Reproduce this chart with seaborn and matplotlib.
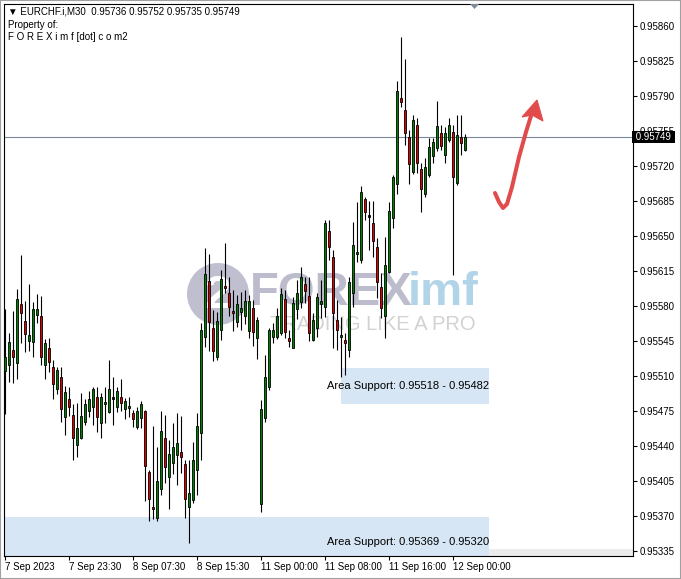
import pandas as pd
import matplotlib
matplotlib.use("Agg")
import matplotlib.pyplot as plt
import matplotlib.transforms as mtransforms
from matplotlib.patches import Rectangle, Polygon, Circle
import seaborn as sns

# EURCHF M30 candles, 7 Sep 2023 15:30 -> 12 Sep 2023 01:30
opens = [
    0.95515, 0.95521, 0.95536, 0.95523, 0.95582, 0.95565, 0.95545, 0.95544, 0.95571, 0.95570,
    0.95521, 0.95538, 0.95519, 0.95497, 0.95509, 0.95469, 0.95487, 0.95471, 0.95441, 0.95448,
    0.95464, 0.95475, 0.95479, 0.95489, 0.95463, 0.95482, 0.95474, 0.95487, 0.95479, 0.95489,
    0.95477, 0.95478, 0.95473, 0.95459, 0.95468, 0.95475, 0.95414, 0.95379, 0.95368, 0.95397,
    0.95448, 0.95409, 0.95423, 0.95431, 0.95434, 0.95422, 0.95379, 0.95386, 0.95416, 0.95453,
    0.95549, 0.95605, 0.95558, 0.95529, 0.95556, 0.95599, 0.95593, 0.95575, 0.95564, 0.95574,
    0.95570, 0.95555, 0.95578, 0.95548, 0.95382, 0.95468, 0.95499, 0.95549, 0.95549, 0.95553,
    0.95587, 0.95548, 0.95538, 0.95577, 0.95584, 0.95602, 0.95590, 0.95546, 0.95558, 0.95582,
    0.95579, 0.95655, 0.95629, 0.95566, 0.95549, 0.95546, 0.95536, 0.95593, 0.95632, 0.95626,
    0.95687, 0.95669, 0.95663, 0.95639, 0.95599, 0.95570, 0.95614, 0.95668, 0.95702, 0.95788,
    0.95776, 0.95749, 0.95714, 0.95761, 0.95717, 0.95692, 0.95711, 0.95730, 0.95738, 0.95753,
    0.95731, 0.95746, 0.95754, 0.95703, 0.95749, 0.95736,
]
highs = [
    0.95577, 0.95553, 0.95575, 0.95597, 0.95631, 0.95585, 0.95602, 0.95584, 0.95592, 0.95590,
    0.95547, 0.95548, 0.95526, 0.95519, 0.95519, 0.95500, 0.95499, 0.95482, 0.95483, 0.95493,
    0.95487, 0.95495, 0.95499, 0.95499, 0.95493, 0.95499, 0.95526, 0.95509, 0.95499, 0.95507,
    0.95488, 0.95489, 0.95476, 0.95479, 0.95485, 0.95476, 0.95416, 0.95460, 0.95439, 0.95475,
    0.95471, 0.95446, 0.95463, 0.95473, 0.95470, 0.95426, 0.95426, 0.95444, 0.95473, 0.95563,
    0.95638, 0.95632, 0.95576, 0.95574, 0.95616, 0.95643, 0.95609, 0.95596, 0.95591, 0.95594,
    0.95596, 0.95591, 0.95586, 0.95569, 0.95486, 0.95531, 0.95558, 0.95563, 0.95578, 0.95598,
    0.95596, 0.95556, 0.95589, 0.95606, 0.95619, 0.95609, 0.95609, 0.95573, 0.95593, 0.95606,
    0.95666, 0.95666, 0.95636, 0.95586, 0.95569, 0.95553, 0.95609, 0.95664, 0.95684, 0.95700,
    0.95689, 0.95685, 0.95685, 0.95648, 0.95613, 0.95649, 0.95684, 0.95711, 0.95805, 0.95849,
    0.95827, 0.95756, 0.95771, 0.95768, 0.95723, 0.95728, 0.95748, 0.95748, 0.95785, 0.95761,
    0.95759, 0.95768, 0.95761, 0.95771, 0.95771, 0.95752,
]
lows = [
    0.95472, 0.95504, 0.95503, 0.95507, 0.95543, 0.95534, 0.95535, 0.95529, 0.95563, 0.95521,
    0.95507, 0.95514, 0.95487, 0.95492, 0.95464, 0.95451, 0.95470, 0.95426, 0.95429, 0.95447,
    0.95461, 0.95469, 0.95461, 0.95454, 0.95448, 0.95463, 0.95473, 0.95461, 0.95474, 0.95475,
    0.95467, 0.95469, 0.95459, 0.95457, 0.95458, 0.95385, 0.95365, 0.95367, 0.95365, 0.95391,
    0.95403, 0.95377, 0.95412, 0.95401, 0.95413, 0.95368, 0.95343, 0.95383, 0.95391, 0.95426,
    0.95539, 0.95535, 0.95525, 0.95526, 0.95546, 0.95593, 0.95570, 0.95555, 0.95559, 0.95556,
    0.95562, 0.95548, 0.95540, 0.95527, 0.95374, 0.95464, 0.95496, 0.95543, 0.95547, 0.95551,
    0.95548, 0.95539, 0.95538, 0.95567, 0.95578, 0.95583, 0.95545, 0.95545, 0.95549, 0.95568,
    0.95569, 0.95626, 0.95538, 0.95536, 0.95509, 0.95511, 0.95529, 0.95579, 0.95624, 0.95623,
    0.95666, 0.95636, 0.95629, 0.95588, 0.95568, 0.95548, 0.95613, 0.95658, 0.95692, 0.95779,
    0.95741, 0.95702, 0.95712, 0.95713, 0.95674, 0.95689, 0.95709, 0.95723, 0.95735, 0.95736,
    0.95723, 0.95744, 0.95611, 0.95701, 0.95731, 0.95735,
]
closes = [
    0.95529, 0.95544, 0.95529, 0.95587, 0.95573, 0.95552, 0.95551, 0.95577, 0.95577, 0.95529,
    0.95543, 0.95524, 0.95502, 0.95516, 0.95477, 0.95494, 0.95479, 0.95448, 0.95458, 0.95470,
    0.95482, 0.95487, 0.95497, 0.95469, 0.95489, 0.95483, 0.95497, 0.95487, 0.95495, 0.95483,
    0.95485, 0.95480, 0.95467, 0.95475, 0.95482, 0.95420, 0.95387, 0.95377, 0.95405, 0.95455,
    0.95419, 0.95432, 0.95439, 0.95443, 0.95429, 0.95387, 0.95393, 0.95426, 0.95460, 0.95556,
    0.95612, 0.95564, 0.95535, 0.95565, 0.95607, 0.95598, 0.95579, 0.95573, 0.95582, 0.95578,
    0.95585, 0.95585, 0.95554, 0.95566, 0.95477, 0.95509, 0.95556, 0.95556, 0.95570, 0.95592,
    0.95554, 0.95545, 0.95583, 0.95593, 0.95609, 0.95595, 0.95553, 0.95566, 0.95589, 0.95585,
    0.95663, 0.95639, 0.95573, 0.95556, 0.95551, 0.95543, 0.95604, 0.95641, 0.95634, 0.95694,
    0.95674, 0.95669, 0.95645, 0.95604, 0.95578, 0.95621, 0.95675, 0.95709, 0.95795, 0.95784,
    0.95753, 0.95722, 0.95766, 0.95723, 0.95697, 0.95719, 0.95739, 0.95744, 0.95760, 0.95740,
    0.95753, 0.95761, 0.95709, 0.95751, 0.95743, 0.95749,
]

tick_bars = [0, 16, 32, 48, 64, 80, 96, 112]
tick_labels = ["7 Sep 2023", "7 Sep 23:30", "8 Sep 07:30", "8 Sep 15:30",
               "11 Sep 00:00", "11 Sep 08:00", "11 Sep 16:00", "12 Sep 00:00"]
price_ticks = [0.95335, 0.95370, 0.95405, 0.95440, 0.95475, 0.95510, 0.95545, 0.95580,
               0.95615, 0.95650, 0.95685, 0.95720, 0.95755, 0.95790, 0.95825, 0.95860]
last_price = 0.95749
header = "EURCHF.i,M30  0.95736 0.95752 0.95735 0.95749"
zone_high = [0.95518, 0.95369]
zone_low = [0.95482, 0.95320]

df = pd.DataFrame({"open": opens, "high": highs, "low": lows, "close": closes})
df["bar"] = range(len(df))
df["bottom"] = df[["open", "close"]].min(axis=1)
df["height"] = (df["close"] - df["open"]).abs().clip(lower=0.000018)
df["color"] = ["#008000" if c > o else ("#e00000" if c < o else "black")
               for o, c in zip(df["open"], df["close"])]

sns.set_theme(style="white")
plt.rcParams["font.family"] = ["Liberation Sans", "DejaVu Sans"]

W, H = 681, 579
fig = plt.figure(figsize=(W / 100, H / 100), dpi=100)
fig.patch.set_facecolor("white")
ax = fig.add_axes([4 / W, (H - 556) / H, (633 - 4) / W, (556 - 4) / H])
ax.set_facecolor("white")
# image-pixel transform for annotations (x right, y down)
pix = mtransforms.Affine2D().scale(1 / W, -1 / H).translate(0, 1) + fig.transFigure

ax.set_xlim(-0.325, 156.925)
ax.set_ylim(0.95330, 0.95882)

# support zones
zone_start = [83.9, -0.325]
zone_text_y = [0.95500, 0.95344]
zone_end = 120.9
for lo, hi, x0, ty in zip(zone_low, zone_high, zone_start, zone_text_y):
    ax.add_patch(Rectangle((x0, lo), zone_end - x0, hi - lo, facecolor="#d7e6f5",
                           edgecolor="none", zorder=0.5))
    ax.text(zone_end, ty, f"Area Support: {hi:.5f} - {lo:.5f}", ha="right",
            va="center", fontsize=8, color="black", zorder=5)
ax.add_patch(Rectangle((zone_end, 0.95330), 160 - zone_end, 0.00007,
                       facecolor="#ececec", edgecolor="none", zorder=0.4))

# watermark
ax.add_patch(Circle((218, 294), 31, transform=pix, facecolor="#a5a5bd",
                    edgecolor="none", alpha=0.7, zorder=1))
ax.text(218, 296, "2", transform=pix, ha="center", va="center", fontsize=34,
        fontweight="bold", color="white", zorder=1.1)
ax.text(250, 293, "FOREX", transform=pix, ha="left", va="center", fontsize=34,
        fontweight="bold", color="#a2a2ba", alpha=0.72, zorder=1)
ax.text(408, 293, "imf", transform=pix, ha="left", va="center", fontsize=34,
        fontweight="bold", color="#a9d0e6", alpha=0.9, zorder=1)
ax.text(270, 324, "TRADING LIKE A PRO", transform=pix, ha="left", va="center",
        fontsize=14.5, color="#d2d2d2", zorder=1)

# last price line
ax.axhline(last_price, color="#7b8899", lw=0.8, zorder=1.5)

# candles
ax.vlines(df["bar"], df["low"], df["high"], colors="black", lw=0.8, zorder=2)
ax.bar(df["bar"], df["height"], bottom=df["bottom"], width=0.55, color=df["color"],
       edgecolor="black", linewidth=0.6, zorder=3)

# arrow
ax.plot([495, 499, 503, 507, 512, 519, 526, 531], [193, 202, 208, 204, 187, 157, 132, 116],
        transform=pix, color="#e24b4b", lw=2.9, solid_capstyle="round",
        solid_joinstyle="round", zorder=6)
ax.add_patch(Polygon([(522, 117), (537, 100), (543, 121), (532, 115)], closed=True,
                     transform=pix, facecolor="#e24b4b", edgecolor="#e24b4b",
                     lw=0.8, zorder=6))

# axes styling
for s in ax.spines.values():
    s.set_color("black")
    s.set_linewidth(0.8)
ax.yaxis.tick_right()
ax.set_yticks(price_ticks)
ax.set_yticklabels([f"{v:.5f}" for v in price_ticks])
ax.set_xticks(tick_bars)
ax.set_xticklabels(tick_labels, ha="left")
ax.tick_params(axis="y", right=True, left=False, length=3, width=0.8, pad=2,
               labelsize=7, colors="black")
ax.tick_params(axis="x", bottom=True, length=3, width=0.8, pad=1.5,
               labelsize=7, colors="black")
ax.grid(False)

# price tag
ax.text(1.0, last_price, " 0.95749 ", transform=ax.get_yaxis_transform(),
        ha="left", va="center", fontsize=7, color="white", zorder=7, clip_on=False,
        bbox=dict(boxstyle="square,pad=0.12", facecolor="black", edgecolor="none"))

# header and top marker
ax.text(8, 12, "\u25bc " + header, transform=pix, ha="left", va="center",
        fontsize=7, color="black", zorder=7)
ax.text(8, 25, "Property of:", transform=pix, ha="left", va="center",
        fontsize=7, color="black", zorder=7)
ax.text(8, 37, "F O R E X i m f [dot] c o m2", transform=pix, ha="left",
        va="center", fontsize=7, color="black", zorder=7)
ax.add_patch(Polygon([(470, 4), (479, 4), (474.5, 9)], closed=True, transform=pix,
                     facecolor="#7d8a99", edgecolor="none", zorder=7, clip_on=False))

fig.add_artist(Rectangle((0, 0), 1, 1, transform=fig.transFigure, fill=False,
                         edgecolor="#a0a0a0", lw=1.5))

fig.savefig("out.png", dpi=100)
